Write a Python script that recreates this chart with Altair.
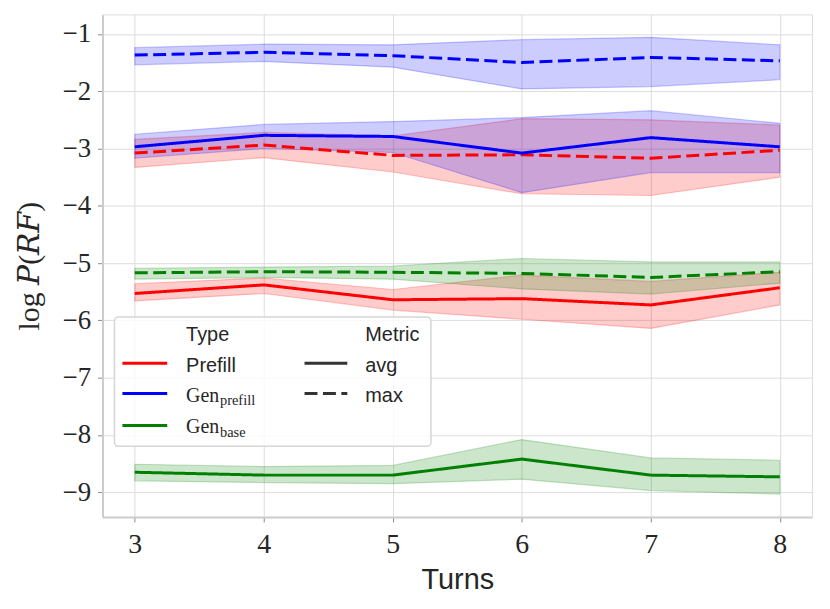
import altair as alt
import pandas as pd

turns = [3, 4, 5, 6, 7, 8]
types = ["Prefill", "Gen_prefill", "Gen_base"]
metrics = ["avg", "max"]

# Prefill
prefill_avg = [-5.53, -5.38, -5.64, -5.62, -5.73, -5.43]
prefill_avg_lo = [-5.66, -5.53, -5.82, -5.98, -6.14, -5.73]
prefill_avg_hi = [-5.36, -5.26, -5.46, -5.21, -5.32, -5.16]
prefill_max = [-3.08, -2.94, -3.12, -3.11, -3.17, -3.03]
prefill_max_lo = [-3.33, -3.16, -3.41, -3.79, -3.82, -3.50]
prefill_max_hi = [-2.84, -2.72, -2.78, -2.48, -2.50, -2.59]
# Gen_prefill
genp_avg = [-2.97, -2.77, -2.79, -3.08, -2.81, -2.97]
genp_avg_lo = [-3.17, -3.00, -3.07, -3.77, -3.42, -3.42]
genp_avg_hi = [-2.75, -2.58, -2.53, -2.46, -2.34, -2.56]
genp_max = [-1.37, -1.32, -1.38, -1.50, -1.41, -1.47]
genp_max_lo = [-1.54, -1.48, -1.58, -1.96, -1.92, -1.80]
genp_max_hi = [-1.24, -1.18, -1.19, -1.10, -1.06, -1.19]
# Gen_base
genb_avg = [-8.65, -8.70, -8.70, -8.42, -8.70, -8.73]
genb_avg_lo = [-8.80, -8.83, -8.85, -8.77, -8.97, -9.03]
genb_avg_hi = [-8.51, -8.55, -8.53, -8.08, -8.40, -8.44]
genb_max = [-5.17, -5.15, -5.16, -5.18, -5.25, -5.15]
genb_max_lo = [-5.28, -5.25, -5.28, -5.45, -5.54, -5.35]
genb_max_hi = [-5.09, -5.07, -5.05, -4.92, -4.98, -4.98]

series = {
    ("Prefill", "avg"): (prefill_avg, prefill_avg_lo, prefill_avg_hi),
    ("Prefill", "max"): (prefill_max, prefill_max_lo, prefill_max_hi),
    ("Gen_prefill", "avg"): (genp_avg, genp_avg_lo, genp_avg_hi),
    ("Gen_prefill", "max"): (genp_max, genp_max_lo, genp_max_hi),
    ("Gen_base", "avg"): (genb_avg, genb_avg_lo, genb_avg_hi),
    ("Gen_base", "max"): (genb_max, genb_max_lo, genb_max_hi),
}

rows = []
for (t, m), (mean, lo, hi) in series.items():
    for i, x in enumerate(turns):
        rows.append({"Turns": x, "Type": t, "Metric": m,
                     "mean": mean[i], "lo": lo[i], "hi": hi[i]})
df = pd.DataFrame(rows)

colors = ["#ff0000", "#0000ff", "#008000"]
cscale = alt.Scale(domain=types, range=colors)
dscale = alt.Scale(domain=metrics, range=[[1, 0], [13, 5.5]])

TXT = "#262626"
FRAME = "#cccccc"
SERIF = "Liberation Serif, DejaVu Serif, serif"
SANS = "Liberation Sans, sans-serif"

xenc = alt.X("Turns:Q",
             scale=alt.Scale(domain=[2.75, 8.25], nice=False, zero=False),
             axis=alt.Axis(values=turns, format="d", title="Turns",
                           domainColor=FRAME, domainWidth=2,
                           titleFont=SANS, titleFontSize=29,
                           titleFontWeight="normal", titleColor=TXT,
                           titleY=72, titleBaseline="alphabetic",
                           labelFont=SERIF, labelFontSize=28,
                           labelColor=TXT, labelPadding=9))
yenc_axis = alt.Axis(values=[-1, -2, -3, -4, -5, -6, -7, -8, -9], format="d",
                     title="log \U0001D443(\U0001D445\U0001D439)",
                     domainColor=FRAME, domainWidth=2,
                     titleFont=SERIF, titleFontSize=30,
                     titleFontWeight="normal", titleColor=TXT,
                     titleX=-64, titleY=252.5, titleAngle=-90,
                     titleAlign="center", titleBaseline="alphabetic",
                     labelFont=SERIF, labelFontSize=27, labelColor=TXT,
                     labelPadding=7)
yscale = alt.Scale(domain=[-9.43, -0.66], nice=False, zero=False)

area = alt.Chart(df).mark_area(fillOpacity=0.2, strokeOpacity=0.22,
                               strokeWidth=1.2).encode(
    x=xenc,
    y=alt.Y("lo:Q", scale=yscale, axis=yenc_axis),
    y2="hi:Q",
    fill=alt.Fill("Type:N", scale=cscale, legend=None),
    stroke=alt.Stroke("Type:N", scale=cscale, legend=None),
    detail="Metric:N",
)

line = alt.Chart(df).mark_line(strokeWidth=3).encode(
    x=xenc,
    y=alt.Y("mean:Q", scale=yscale, axis=yenc_axis),
    color=alt.Color("Type:N", scale=cscale, legend=None),
    strokeDash=alt.StrokeDash("Metric:N", scale=dscale, legend=None),
)

one = pd.DataFrame({"k": [0]})

legend_layers = []
legend_layers.append(
    alt.Chart(one).mark_rect(fill="white", fillOpacity=0.8, stroke="#d6d6d6",
                             strokeWidth=1.5, cornerRadius=4).encode(
        x=alt.value(12), x2=alt.value(330), y=alt.value(304), y2=alt.value(434)))


def txt(s, x, y, font, size):
    return alt.Chart(one).mark_text(text=s, align="left", baseline="alphabetic",
                                    font=font, fontSize=size, color=TXT).encode(
        x=alt.value(x), y=alt.value(y))


def rule(c, x1, x2, y, dash=None):
    kw = dict(color=c, strokeWidth=3)
    if dash:
        kw["strokeDash"] = dash
    return alt.Chart(one).mark_rule(**kw).encode(
        x=alt.value(x1), x2=alt.value(x2), y=alt.value(y))


legend_layers += [
    txt("Type", 84, 328, SANS, 20),
    txt("Metric", 264, 328, SANS, 20),
    rule(colors[0], 20, 65, 350.5),
    rule(colors[1], 20, 65, 381),
    rule(colors[2], 20, 65, 413),
    txt("Prefill", 84, 359, SANS, 20),
    txt("Gen", 84, 389, SERIF, 20),
    txt("prefill", 118, 392.5, SERIF, 14.5),
    txt("Gen", 84, 420.5, SERIF, 20),
    txt("base", 118, 424.5, SERIF, 14.5),
    rule("#333333", 203, 246, 350.5),
    rule("#333333", 203, 246, 381, [13, 5.5]),
    txt("avg", 264, 359, SANS, 20),
    txt("max", 264, 389, SANS, 20),
]

chart = alt.layer(area, line, *legend_layers).properties(
    width=713, height=505,
    autosize=alt.AutoSizeParams(type="none"),
    padding={"left": 95, "top": 5, "right": 10, "bottom": 83},
).configure_view(
    stroke=FRAME, strokeWidth=2
).configure_axis(
    domainColor=FRAME, domainWidth=2, grid=True, gridColor=FRAME,
    gridWidth=1.5, ticks=True, tickColor=TXT, tickWidth=2, tickSize=9.5,
).configure(background="white")

chart.save("out.html", embed_options={"renderer": "svg", "actions": False})
